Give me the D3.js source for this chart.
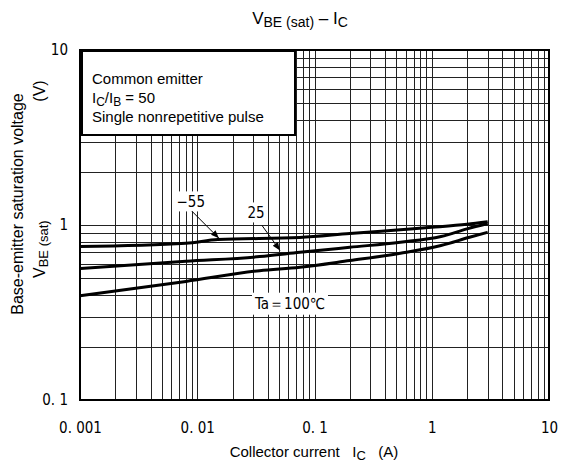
<!DOCTYPE html>
<html><head><meta charset="utf-8">
<script src="https://cdn.jsdelivr.net/npm/d3@7"></script>
<style>
html,body{margin:0;padding:0;background:#fff;}
svg{display:block;}
.pre{white-space:pre;}
</style></head>
<body>
<script>
// ---- data ----
const xTickValues = [0.001, 0.01, 0.1, 1, 10];
const xTickLabels = ["0. 001", "0. 01", "0. 1", "1", "10"];
const yTickValues = [0.1, 1, 10];
const yTickLabels = ["0. 1", "1", "10"];

const currentM55 = [0.001, 0.008, 0.015, 0.075, 0.2, 0.54, 1, 2, 3];
const vbeM55     = [0.753, 0.786, 0.825, 0.848, 0.894, 0.94, 0.97, 1.01, 1.045];
const current25  = [0.001, 0.008, 0.034, 0.075, 0.2, 0.54, 1.2, 2, 3];
const vbe25      = [0.563, 0.62, 0.66, 0.698, 0.746, 0.797, 0.86, 0.95, 1.02];
const current100 = [0.001, 0.008, 0.034, 0.075, 0.2, 0.54, 1.2, 2.1, 3];
const vbe100     = [0.394, 0.476, 0.548, 0.573, 0.626, 0.689, 0.763, 0.851, 0.909];

const seriesNames = ["-55", "25", "Ta=100"];
const annotationLabels = ["\u221255", "25", "Ta\uFF1D100\u2103"];
const annotationAt = [[0.0088, 1.364], [0.0317, 1.18], [0.0618, 0.355]];
const arrowFrom = [[0.009, 1.2], [0.0357, 0.993], null];
const arrowTo   = [[0.0153, 0.84], [0.0508, 0.716], null];

const legendLines = ["Common emitter", "IC/IB = 50", "Single nonrepetitive pulse"];

// ---- layout ----
const W = 564, H = 468;
const m = {left: 80, right: 15, top: 50, bottom: 68};
const svg = d3.select("body").append("svg").attr("width", W).attr("height", H);

const x = d3.scaleLog().domain([0.001, 10]).range([m.left, W - m.right]);
const y = d3.scaleLog().domain([0.1, 10]).range([H - m.bottom, m.top]);

const narrow = "'Liberation Sans Narrow','DejaVu Sans Condensed','Liberation Sans',sans-serif";
const sans = "'Liberation Sans',Arial,sans-serif";

// grid
const minorX = [];
for (let d = 0.001; d < 10; d *= 10) for (let k = 1; k <= 10; k++) minorX.push(d * k);
const minorY = [];
for (let d = 0.1; d < 10; d *= 10) for (let k = 1; k <= 10; k++) minorY.push(d * k);

const grid = svg.append("g").attr("shape-rendering", "crispEdges");
grid.selectAll("line.vx").data(minorX).enter().append("line")
  .attr("x1", d => Math.round(x(d)) + 0.5).attr("x2", d => Math.round(x(d)) + 0.5)
  .attr("y1", y(10)).attr("y2", y(0.1))
  .attr("stroke", "#222").attr("stroke-width", 1);
grid.selectAll("line.hy").data(minorY).enter().append("line")
  .attr("y1", d => Math.round(y(d)) + 0.5).attr("y2", d => Math.round(y(d)) + 0.5)
  .attr("x1", x(0.001)).attr("x2", x(10))
  .attr("stroke", "#222").attr("stroke-width", 1);

// frame
svg.append("rect").attr("x", x(0.001)).attr("y", y(10))
  .attr("width", x(10) - x(0.001)).attr("height", y(0.1) - y(10))
  .attr("fill", "none").attr("stroke", "#000").attr("stroke-width", 2);

// axes (tick labels only)
const xAxis = d3.axisBottom(x).tickValues(xTickValues)
  .tickFormat((d, i) => xTickLabels[i]).tickSize(0).tickPadding(22);
const gx = svg.append("g").attr("transform", `translate(0,${y(0.1)})`).call(xAxis);
gx.select(".domain").remove();
gx.selectAll("text").attr("font-family", narrow).attr("font-size", 15).attr("fill", "#000");

const yAxis = d3.axisLeft(y).tickValues(yTickValues)
  .tickFormat((d, i) => yTickLabels[i]).tickSize(0).tickPadding(12);
const gy = svg.append("g").attr("transform", `translate(${x(0.001)},0)`).call(yAxis);
gy.select(".domain").remove();
gy.selectAll("text").attr("font-family", narrow).attr("font-size", 15).attr("fill", "#000");

// curves
const line = d3.line().x(d => x(d[0])).y(d => y(d[1])).curve(d3.curveMonotoneX);
const curves = [
  d3.zip(currentM55, vbeM55),
  d3.zip(current25, vbe25),
  d3.zip(current100, vbe100)
];
svg.append("g").selectAll("path").data(curves).enter().append("path")
  .attr("d", line).attr("fill", "none").attr("stroke", "#000").attr("stroke-width", 3);

// annotations
svg.append("defs").append("marker").attr("id", "ah")
  .attr("viewBox", "0 0 10 10").attr("refX", 10).attr("refY", 5)
  .attr("markerWidth", 8).attr("markerHeight", 8).attr("orient", "auto")
  .append("path").attr("d", "M0,1 L10,5 L0,9 Z").attr("fill", "#000");

annotationLabels.forEach((lab, i) => {
  const [ai, av] = annotationAt[i];
  if (i === 2) {
    svg.append("rect").attr("x", x(ai) - 38).attr("y", y(av) - 11)
      .attr("width", 76).attr("height", 22).attr("fill", "#fff");
  } else {
    svg.append("rect").attr("x", x(ai) - 12).attr("y", y(av) - 10)
      .attr("width", 24).attr("height", 20).attr("fill", "#fff");
  }
  svg.append("text").attr("x", x(ai)).attr("y", y(av)).attr("dy", "0.36em")
    .attr("text-anchor", "middle").attr("font-family", narrow).attr("font-size", 15)
    .text(lab);
  if (arrowFrom[i]) {
    svg.append("line")
      .attr("x1", x(arrowFrom[i][0])).attr("y1", y(arrowFrom[i][1]))
      .attr("x2", x(arrowTo[i][0])).attr("y2", y(arrowTo[i][1]))
      .attr("stroke", "#000").attr("stroke-width", 1).attr("marker-end", "url(#ah)");
  }
});

// legend box
const lg = svg.append("g");
lg.append("rect").attr("x", 82).attr("y", 51).attr("width", 213).attr("height", 84)
  .attr("fill", "#fff").attr("stroke", "#000").attr("stroke-width", 2);
const lt = lg.append("text").attr("font-family", sans).attr("font-size", 15).attr("fill", "#000");
lt.append("tspan").attr("x", 92).attr("y", 84).text(legendLines[0]);
const l2 = lt.append("tspan").attr("x", 92).attr("y", 103);
l2.append("tspan").text("I");
l2.append("tspan").attr("font-size", 12).attr("dy", 3).text("C");
l2.append("tspan").attr("dy", -3).text("/I");
l2.append("tspan").attr("font-size", 12).attr("dy", 3).text("B");
l2.append("tspan").attr("dy", -3).text(" = 50");
lt.append("tspan").attr("x", 92).attr("y", 122).text(legendLines[2]);

// title
const tt = svg.append("text").attr("class", "pre").attr("x", 300).attr("y", 24).attr("text-anchor", "middle")
  .attr("font-family", sans).attr("font-size", 17);
tt.append("tspan").text("V");
tt.append("tspan").attr("font-size", 14).attr("dy", 3).text("BE (sat)");
tt.append("tspan").attr("dy", -3).text(" \u2013 I");
tt.append("tspan").attr("font-size", 14).attr("dy", 3).text("C");

// x label
const xl = svg.append("text").attr("class", "pre").attr("x", 314).attr("y", 457).attr("text-anchor", "middle")
  .attr("font-family", sans).attr("font-size", 15);
xl.append("tspan").text("Collector current   I");
xl.append("tspan").attr("font-size", 13).attr("dy", 3).text("C");
xl.append("tspan").attr("dy", -3).text("   (A)");

// y label
svg.append("text").attr("transform", "translate(23,204) rotate(-90)")
  .attr("text-anchor", "middle").attr("font-family", sans).attr("font-size", 16)
  .text("Base-emitter saturation voltage");
const yl2 = svg.append("text").attr("transform", "translate(45,278) rotate(-90)")
  .attr("text-anchor", "start").attr("font-family", sans).attr("font-size", 16);
yl2.append("tspan").text("V");
yl2.append("tspan").attr("font-size", 13).attr("dy", 3).text("BE (sat)");
svg.append("text").attr("transform", "translate(45,91) rotate(-90)")
  .attr("text-anchor", "middle").attr("font-family", sans).attr("font-size", 16)
  .text("(V)");
</script>
</body></html>
